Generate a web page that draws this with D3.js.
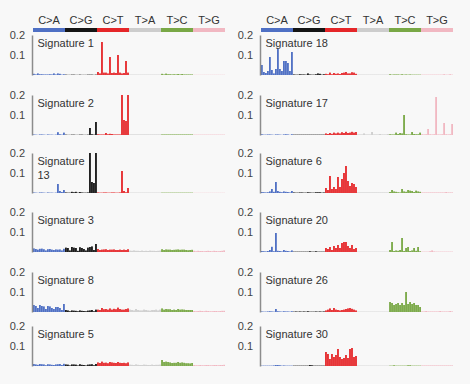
<!DOCTYPE html>
<html>
<head>
<meta charset="utf-8">
<script src="https://cdn.jsdelivr.net/npm/d3@7"></script>
<style>
  body { margin: 0; background: #f8f8f8; }
  text { font-family: "Liberation Sans", Arial, sans-serif; }
</style>
</head>
<body>
<div id="chart"></div>
<script>
// categorias: 6 tipos de mutacion x 16 contextos trinucleotidos
const mutationTypes = ["C>A", "C>G", "C>T", "T>A", "T>C", "T>G"];
const contexts = ["A_A", "A_C", "A_G", "A_T", "C_A", "C_C", "C_G", "C_T",
                  "G_A", "G_C", "G_G", "G_T", "T_A", "T_C", "T_G", "T_T"];
const yTicks = [0.1, 0.2];

// valores (orden: C>A, C>G, C>T, T>A, T>C, T>G)
const sig1 = [
  .006,.003,.008,.004, .004,.003,.003,.003, .004,.003,.008,.003, .008,.006,.002,.004,
  .002,.001,.001,.002, .002,.001,.001,.002, .001,.001,.001,.002, .002,.002,.001,.002,
  .015,.008,.165,.012, .012,.008,.09,.01, .012,.01,.1,.012, .008,.01,.07,.012,
  .002,.002,.002,.002, .002,.002,.002,.002, .002,.002,.002,.002, .002,.002,.002,.002,
  .006,.003,.007,.004, .004,.003,.004,.003, .005,.003,.005,.003, .003,.003,.003,.003,
  .001,.001,.001,.001, .001,.001,.001,.001, .001,.001,.001,.001, .001,.001,.001,.001
];
const sig2 = [
  .003,.002,.001,.003, .003,.002,.001,.003, .002,.002,.001,.002, .014,.004,.002,.012,
  .002,.001,.001,.002, .002,.001,.001,.002, .002,.001,.001,.002, .035,.004,.002,.065,
  .004,.003,.003,.003, .01,.004,.006,.005, .003,.003,.003,.003, .24,.075,.07,.3,
  .003,.003,.003,.003, .003,.003,.003,.003, .003,.003,.003,.003, .003,.003,.003,.003,
  .003,.003,.003,.003, .003,.003,.003,.003, .003,.003,.003,.003, .003,.003,.003,.003,
  .002,.002,.002,.002, .002,.002,.002,.002, .002,.002,.002,.002, .002,.002,.002,.002
];
const sig13 = [
  .003,.002,.001,.003, .003,.002,.001,.003, .002,.002,.001,.002, .045,.01,.005,.015,
  .003,.002,.002,.006, .004,.006,.002,.005, .003,.002,.002,.003, .25,.055,.05,.25,
  .003,.002,.002,.003, .003,.002,.002,.003, .003,.002,.002,.003, .11,.01,.004,.025,
  .002,.002,.002,.002, .002,.002,.002,.002, .002,.002,.002,.002, .002,.002,.002,.002,
  .002,.002,.002,.002, .002,.002,.002,.002, .002,.002,.002,.002, .002,.002,.002,.002,
  .001,.001,.001,.001, .001,.001,.001,.001, .001,.001,.001,.001, .001,.001,.001,.001
];
const sig3 = [
  .018,.015,.012,.016, .017,.014,.008,.014, .015,.012,.01,.013, .012,.013,.008,.016,
  .022,.02,.008,.025, .022,.02,.006,.024, .02,.015,.008,.022, .025,.028,.01,.04,
  .015,.01,.012,.013, .014,.01,.012,.012, .013,.01,.01,.012, .01,.012,.01,.014,
  .007,.006,.008,.006, .006,.005,.007,.005, .006,.005,.007,.006, .006,.005,.006,.007,
  .014,.01,.013,.012, .012,.01,.011,.012, .013,.011,.012,.012, .01,.009,.01,.011,
  .006,.004,.006,.005, .005,.004,.005,.006, .005,.004,.006,.005, .004,.005,.006,.008
];
const sig8 = [
  .035,.03,.02,.035, .03,.028,.015,.03, .028,.02,.015,.025, .025,.02,.01,.04,
  .01,.008,.004,.008, .007,.006,.004,.008, .006,.005,.004,.007, .008,.01,.004,.012,
  .012,.01,.02,.014, .015,.012,.018,.012, .016,.014,.022,.015, .012,.012,.015,.018,
  .012,.01,.008,.015, .01,.008,.008,.012, .01,.008,.007,.01, .01,.012,.008,.012,
  .018,.012,.015,.014, .014,.01,.012,.01, .015,.012,.013,.012, .01,.01,.01,.01,
  .005,.004,.005,.006, .005,.004,.006,.005, .004,.004,.005,.005, .004,.005,.006,.006
];
const sig5 = [
  .01,.008,.006,.01, .009,.008,.004,.009, .008,.006,.005,.008, .009,.01,.005,.011,
  .008,.007,.003,.008, .008,.007,.003,.009, .006,.005,.003,.007, .008,.009,.004,.01,
  .018,.015,.022,.016, .017,.014,.02,.018, .016,.015,.02,.016, .015,.016,.014,.018,
  .007,.006,.005,.008, .006,.005,.005,.007, .006,.005,.005,.007, .005,.006,.006,.007,
  .03,.02,.022,.02, .018,.015,.016,.016, .02,.016,.018,.016, .014,.014,.013,.015,
  .005,.004,.004,.005, .004,.004,.005,.005, .004,.004,.005,.005, .004,.005,.005,.006
];
const sig18 = [
  .05,.015,.01,.02, .09,.025,.008,.03, .13,.03,.02,.07, .07,.06,.02,.115,
  .003,.002,.002,.004, .003,.003,.002,.008, .003,.002,.002,.004, .008,.006,.002,.004,
  .006,.004,.012,.004, .01,.006,.008,.005, .01,.012,.015,.008, .008,.014,.012,.006,
  .002,.002,.002,.002, .002,.002,.002,.002, .002,.002,.002,.002, .002,.002,.002,.002,
  .004,.002,.003,.003, .003,.002,.004,.002, .003,.002,.003,.002, .002,.002,.002,.002,
  .002,.002,.002,.002, .002,.002,.002,.002, .002,.002,.002,.004, .002,.002,.004,.002
];
const sig17 = [
  .004,.002,.002,.003, .003,.002,.001,.003, .003,.002,.001,.003, .004,.003,.001,.004,
  .002,.002,.002,.002, .002,.002,.002,.002, .002,.002,.002,.002, .002,.002,.002,.002,
  .008,.005,.01,.006, .012,.008,.012,.008, .014,.01,.016,.01, .012,.016,.012,.015,
  .003,.003,.003,.008, .003,.003,.003,.015, .003,.003,.003,.005, .003,.003,.003,.005,
  .004,.003,.003,.012, .005,.01,.008,.1, .004,.003,.003,.015, .005,.004,.004,.012,
  .004,.003,.004,.03, .004,.003,.004,.19, .003,.003,.004,.06, .004,.003,.004,.055
];
const sig6 = [
  .005,.004,.003,.004, .008,.02,.006,.055, .01,.006,.004,.008, .006,.005,.003,.01,
  .003,.002,.002,.003, .003,.002,.002,.004, .003,.002,.002,.004, .004,.004,.002,.003,
  .025,.015,.085,.02, .03,.02,.08,.03, .07,.1,.135,.06, .035,.05,.045,.03,
  .003,.003,.003,.003, .003,.003,.003,.003, .003,.003,.003,.003, .003,.003,.003,.003,
  .005,.015,.008,.006, .004,.003,.02,.008, .006,.015,.012,.01, .005,.012,.008,.006,
  .003,.003,.003,.003, .003,.003,.003,.003, .003,.003,.003,.003, .005,.003,.003,.003
];
const sig20 = [
  .005,.004,.003,.005, .01,.026,.004,.095, .006,.005,.003,.01, .006,.005,.003,.008,
  .002,.002,.002,.002, .002,.002,.002,.002, .004,.002,.002,.004, .002,.002,.002,.002,
  .02,.015,.025,.01, .03,.02,.035,.02, .045,.05,.05,.03, .02,.035,.015,.02,
  .002,.002,.002,.002, .002,.002,.002,.002, .002,.002,.002,.002, .002,.002,.002,.002,
  .01,.05,.005,.008, .006,.01,.07,.005, .02,.025,.005,.008, .02,.006,.025,.004,
  .002,.002,.002,.002, .004,.008,.003,.002, .002,.002,.002,.002, .002,.002,.002,.002
];
const sig26 = [
  .003,.002,.002,.003, .004,.003,.002,.015, .004,.003,.002,.004, .003,.003,.002,.004,
  .002,.003,.002,.003, .002,.003,.002,.004, .002,.002,.002,.003, .002,.003,.002,.003,
  .008,.012,.018,.01, .02,.012,.01,.008, .01,.012,.015,.018, .02,.016,.012,.008,
  .002,.002,.002,.002, .002,.002,.002,.002, .002,.002,.002,.002, .002,.002,.002,.002,
  .05,.045,.035,.04, .045,.035,.045,.035, .1,.04,.05,.04, .045,.035,.035,.025,
  .003,.003,.005,.003, .003,.003,.003,.003, .003,.005,.003,.003, .003,.003,.005,.003
];
const sig30 = [
  .002,.002,.002,.002, .002,.002,.003,.005, .005,.004,.002,.003, .002,.002,.002,.002,
  .002,.002,.002,.002, .002,.002,.002,.002, .005,.004,.002,.002, .002,.002,.002,.002,
  .07,.06,.035,.06, .045,.055,.085,.045, .035,.04,.055,.04, .085,.09,.045,.05,
  .002,.002,.002,.002, .002,.002,.002,.002, .002,.002,.002,.002, .002,.002,.002,.002,
  .002,.002,.004,.002, .002,.002,.002,.002, .002,.004,.004,.002, .002,.002,.002,.002,
  .003,.003,.003,.003, .003,.003,.003,.003, .003,.003,.003,.003, .003,.003,.003,.003
];

const leftNames = ["Signature 1", "Signature 2", "Signature 13", "Signature 3", "Signature 8", "Signature 5"];
const leftValues = [sig1, sig2, sig13, sig3, sig8, sig5];
const rightNames = ["Signature 18", "Signature 17", "Signature 6", "Signature 20", "Signature 26", "Signature 30"];
const rightValues = [sig18, sig17, sig6, sig20, sig26, sig30];

const width = 470, height = 384;
const FONT = "'Liberation Sans', Arial, sans-serif";
const rowBaselines = [75, 135, 193, 252, 312, 366];
const panelHeight = 40;
const wrapLabels = ["Signature 13"];

const typeColor = d3.scaleOrdinal().domain(mutationTypes)
  .range(["#4f70c4", "#151515", "#e52629", "#cdcdcd", "#79a846", "#f1b8c2"]);

const categories = mutationTypes.flatMap(t => contexts.map(c => c.replace("_", "[" + t + "]")));

const svg = d3.select("#chart").append("svg")
  .attr("width", width).attr("height", height)
  .style("background-color", "#f8f8f8");

const columns = [
  { x0: 33, x1: 225, names: leftNames, values: leftValues },
  { x0: 261, x1: 453, names: rightNames, values: rightValues }
];

columns.forEach(col => {
  const x = d3.scaleBand().domain(categories).range([col.x0, col.x1]).paddingInner(0.1);
  const xType = d3.scaleBand().domain(mutationTypes).range([col.x0, col.x1]);

  // cabecera con los tipos de mutacion
  const head = svg.append("g");
  head.selectAll("rect").data(mutationTypes).join("rect")
    .attr("x", d => xType(d)).attr("y", 28)
    .attr("width", xType.bandwidth()).attr("height", 4)
    .attr("fill", d => typeColor(d));
  head.selectAll("text").data(mutationTypes).join("text")
    .attr("x", d => xType(d) + xType.bandwidth() / 2).attr("y", 24)
    .attr("text-anchor", "middle").attr("font-size", 11).attr("fill", "#333")
    .text(d => d);

  col.names.forEach((name, i) => {
    const base = rowBaselines[i];
    const y = d3.scaleLinear().domain([0, 0.2]).range([base, base - panelHeight]).clamp(true);
    const g = svg.append("g");

    g.selectAll("rect").data(col.values[i]).join("rect")
      .attr("x", (d, j) => x(categories[j]))
      .attr("width", x.bandwidth())
      .attr("y", d => y(d))
      .attr("height", d => base - y(d))
      .attr("fill", (d, j) => typeColor(mutationTypes[Math.floor(j / 16)]));

    const axis = g.append("g")
      .attr("transform", `translate(${col.x0 - 1},0)`)
      .call(d3.axisLeft(y).tickValues(yTicks).tickSize(0).tickPadding(7).tickFormat(d3.format(".1f")))
      .attr("font-family", FONT).attr("font-size", 11);
    axis.select(".domain").attr("stroke", "#8c8c8c").attr("stroke-width", 1.5);
    axis.selectAll("text").attr("fill", "#444");

    const label = g.append("text")
      .attr("x", col.x0 + 4.5).attr("y", base - 28)
      .attr("font-size", 11).attr("fill", "#333");
    if (wrapLabels.includes(name)) {
      const parts = name.split(" ");
      label.append("tspan").attr("x", col.x0 + 4.5).text(parts[0]);
      label.append("tspan").attr("x", col.x0 + 4.5).attr("dy", 14).text(parts[1]);
    } else {
      label.text(name);
    }
  });
});
</script>
</body>
</html>
